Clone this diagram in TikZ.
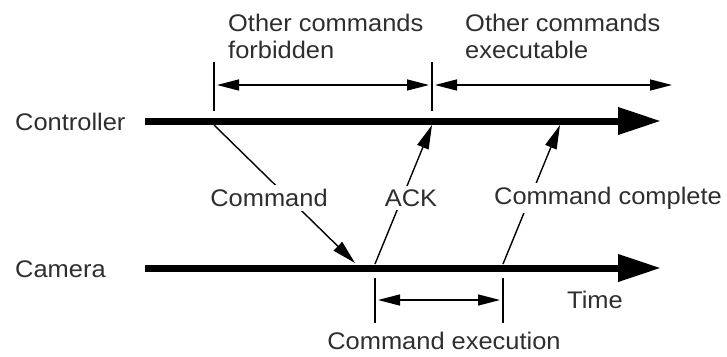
\documentclass[tikz,border=0pt]{standalone}
\usepackage{fontspec}
\setmainfont{Liberation Sans}[FakeStretch=1.06]
\usetikzlibrary{arrows.meta}
\definecolor{labelgray}{HTML}{2E2E2E}

\begin{document}
\begin{tikzpicture}[x=1pt, y=-1pt,
                lbl/.style={inner sep=0pt, text=labelgray, font=\fontsize{24}{27}\selectfont},
                gap/.style={lbl, fill=white, inner sep=4pt},
                axis/.style={line width=7pt, -{Triangle[length=43pt, width=26pt]}},
                msg/.style={line width=1.4pt, -{Triangle[length=24pt, width=12pt]}},
                span/.style={line width=1.4pt, {Triangle[length=22pt, width=11pt]}-{Triangle[length=22pt, width=11pt]}, shorten <=3pt, shorten >=3pt},
                tick/.style={line width=1.4pt}
            ]
                \useasboundingbox (0,0) rectangle (727,356);

                \node (ctrl) [lbl, anchor=base west] at (15,130) {Controller};
                \node (cam) [lbl, anchor=base west] at (15,277) {Camera};

                \coordinate (ctrlS) at (145,121);
                \coordinate (ctrlE) at (661,121);
                \coordinate (camS) at (145,268);
                \coordinate (camE) at (661,268);
                \draw [axis] (ctrlS) -- (ctrlE);
                \draw [axis] (camS) -- (camE);

                % ticks and spans
                \coordinate (sendT) at (214,62);
                \coordinate (sendB) at (214,111);
                \coordinate (ackT) at (432,62);
                \coordinate (ackB) at (432,111);
                \coordinate (runT) at (375,278);
                \coordinate (runB) at (375,323);
                \coordinate (doneT) at (503,278);
                \coordinate (doneB) at (503,323);
                \draw [tick] (sendT) -- (sendB);
                \draw [tick] (ackT) -- (ackB);
                \draw [tick] (runT) -- (runB);
                \draw [tick] (doneT) -- (doneB);

                \coordinate (fbL) at (214,85);
                \coordinate (fbR) at (432,85);
                \coordinate (exR) at (675,85);
                \coordinate (runL) at (375,300);
                \coordinate (runR) at (503,300);
                \draw [span] (fbL) -- (fbR);
                \draw [span] (fbR) -- (exR);
                \draw [span] (runL) -- (runR);

                \node (forb) [lbl, anchor=north west, align=left] at (228,14) {Other commands\\forbidden};
                \node (exec) [lbl, anchor=north west, align=left] at (465,14) {Other commands\\executable};

                % messages
                \coordinate (send) at (214,125);
                \coordinate (recv) at (355,263);
                \coordinate (ackS) at (375,264);
                \coordinate (ackE) at (432,125);
                \coordinate (doneS) at (503,264);
                \coordinate (doneE) at (560,125);
                \draw [msg] (send) -- (recv);
                \draw [msg] (ackS) -- (ackE);
                \draw [msg] (doneS) -- (doneE);

                \node (cmd) [gap] at (269,198) {Command};
                \node (ack) [gap] at (411,198) {ACK};
                \node (done) [gap] at (608,198) {Command complete};
                \node (time) [lbl] at (595,300) {Time};
                \node (run) [lbl] at (444,341) {Command execution};
            \end{tikzpicture}
\end{document}
